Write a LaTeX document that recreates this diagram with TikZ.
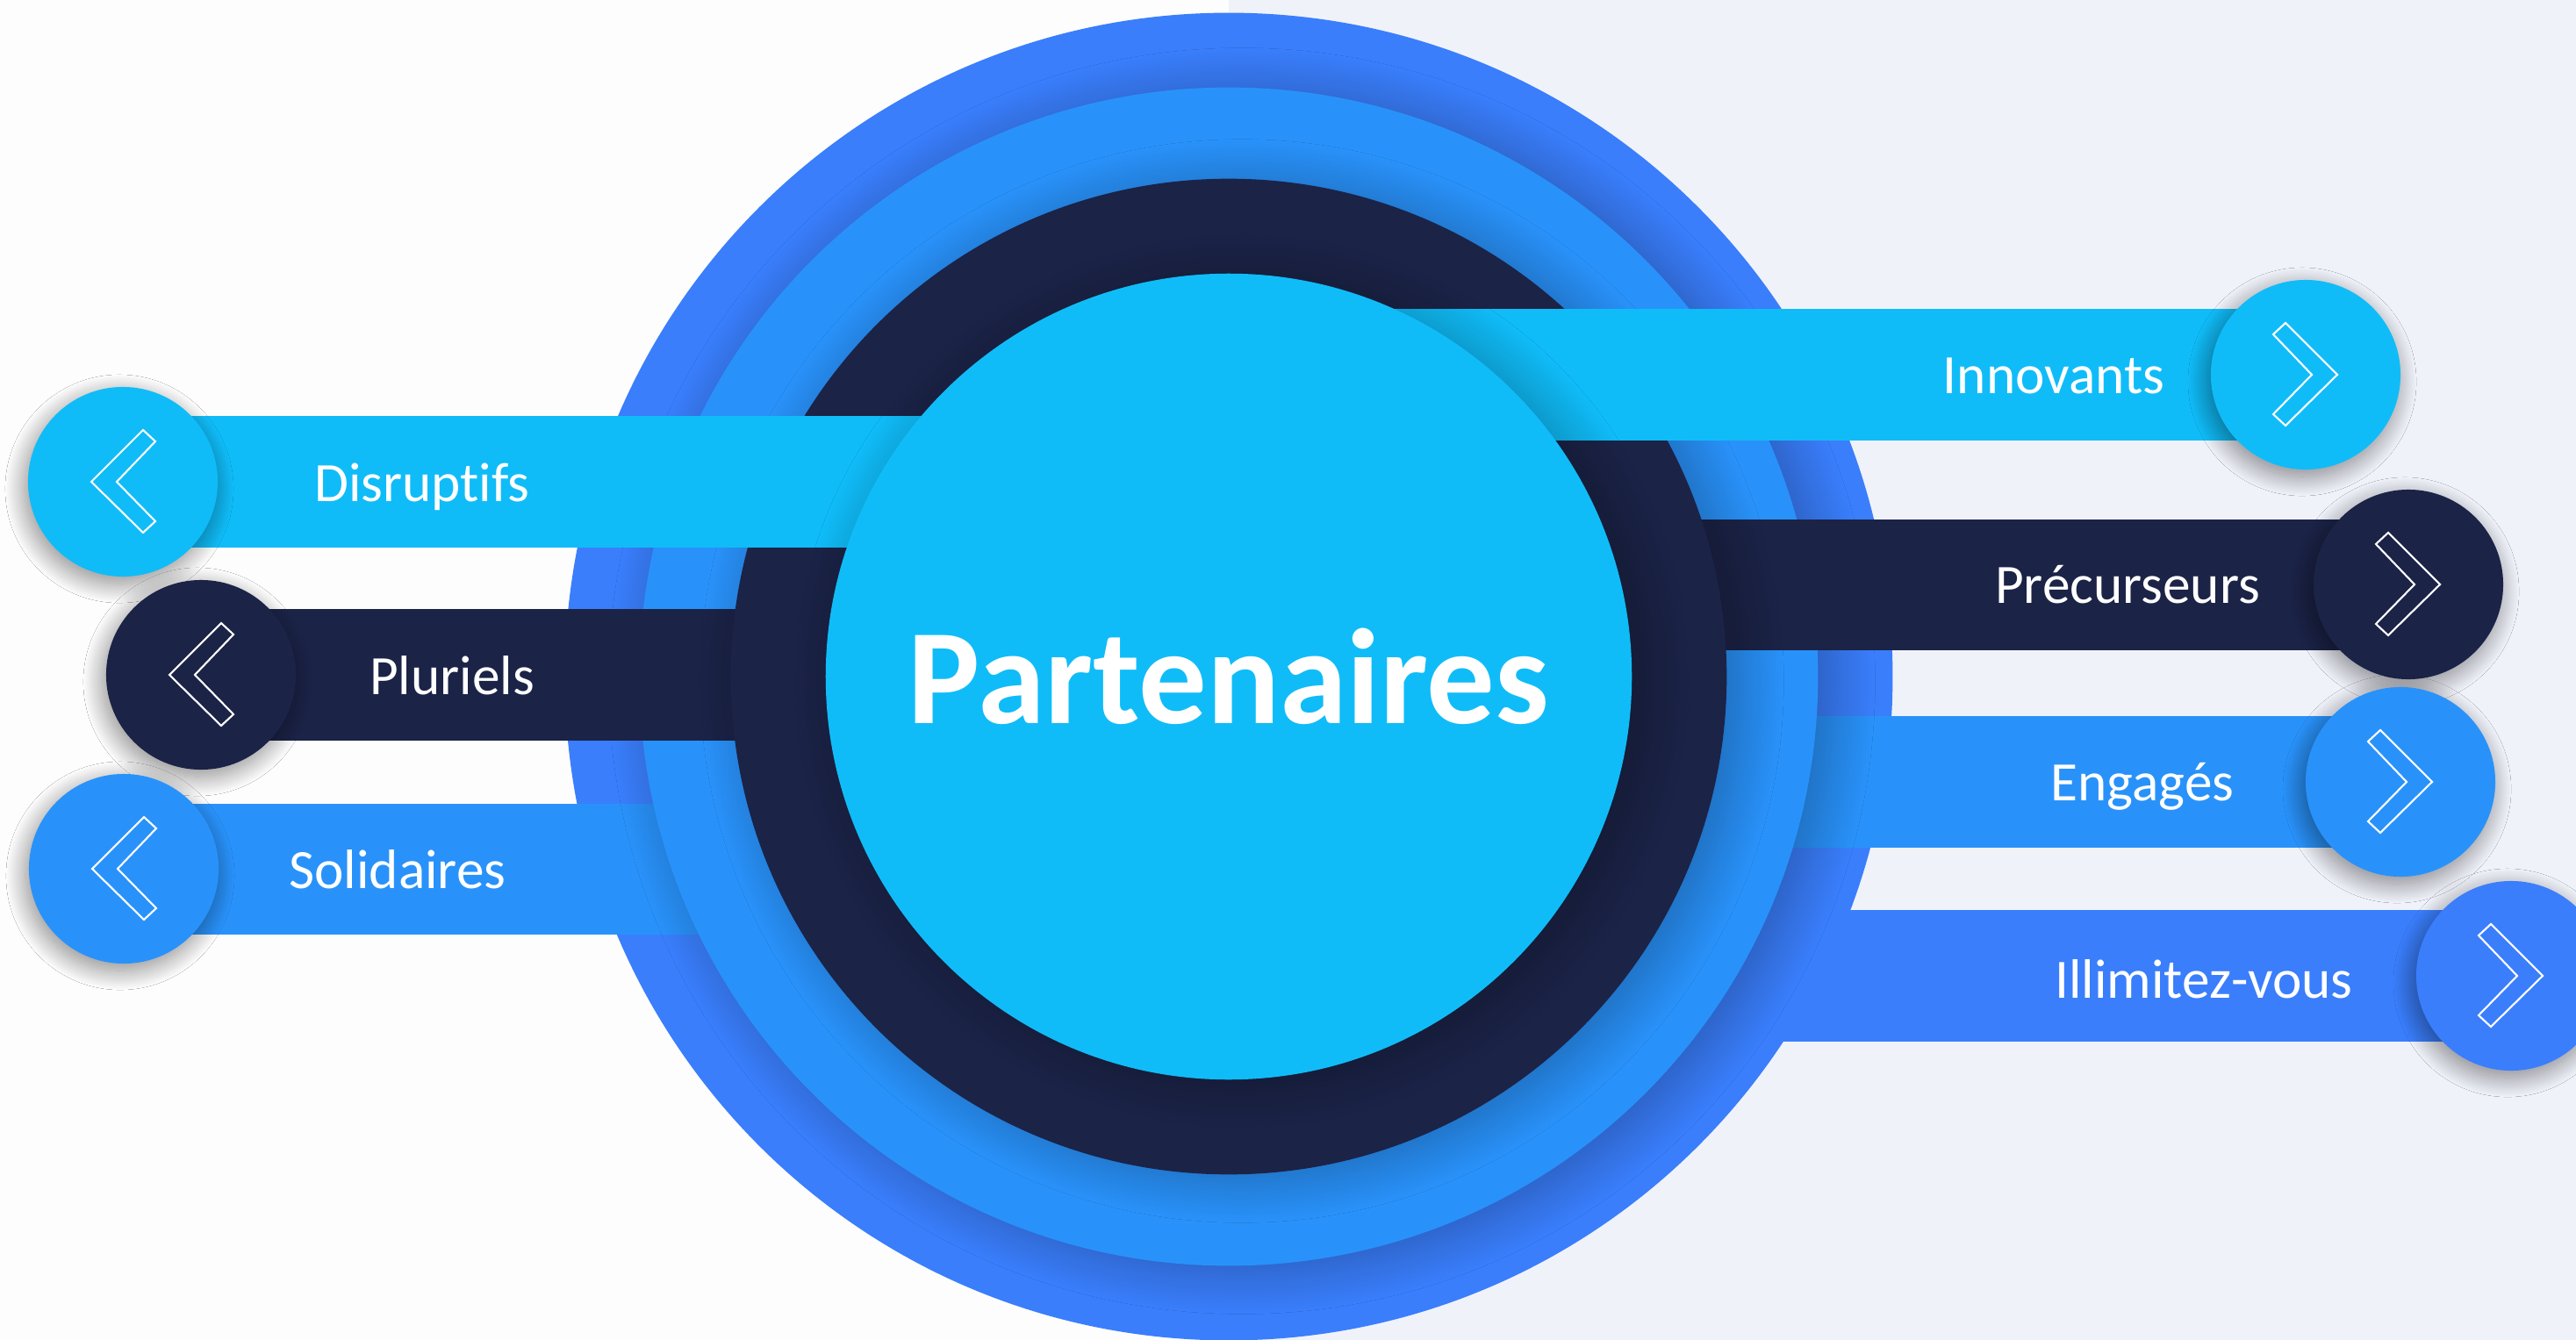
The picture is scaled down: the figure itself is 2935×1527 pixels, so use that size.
\documentclass[tikz,border=0pt]{standalone}
\usepackage{fontspec}
\setmainfont{Carlito}[Ligatures=NoCommon]
\usetikzlibrary{shadows.blur}
\definecolor{ringblue}{HTML}{3A7EFC}
\definecolor{midblue}{HTML}{2992FA}
\definecolor{navy}{HTML}{1B2347}
\definecolor{skyblue}{HTML}{10BCF8}
\definecolor{bgleft}{HTML}{FDFDFD}
\definecolor{bgright}{HTML}{F0F2FA}
\tikzset{ring/.style={circle, inner sep=0pt, blur shadow={shadow blur radius=5mm, shadow blur steps=40, shadow xshift=1.5mm, shadow yshift=-0.5mm, shadow opacity=30}},
	icon/.style={circle, minimum size=2.16cm, inner sep=0pt, blur shadow={shadow blur radius=2.2mm, shadow blur steps=30, shadow xshift=-0.4mm, shadow yshift=-0.8mm, shadow opacity=45}},
	chev/.style={draw=white, line width=0.6pt},
	tag/.style={text=white, font=\fontsize{18}{20}\selectfont, anchor=base}
}

\begin{document}
\begin{tikzpicture}[x=0.01cm, y=-0.01cm]
	\useasboundingbox (0,0) rectangle (2935,1527);
	\clip (0,0) rectangle (2935,1527);
	\fill[bgleft] (0,0) rectangle (1400,1527);
	\fill[bgright] (1400,0) rectangle (2935,1527);
	
	% rings and bands behind them
	\node[circle, inner sep=0pt, fill=ringblue, minimum size=15.12cm] (outer) at (1400,771) {};
	\fill[ringblue] (1900,1037) rectangle (2861,1187);
	\fill[midblue] (1900,816) rectangle (2735,966);
	\fill[midblue] (141,916) rectangle (900,1065);
	\node[ring, fill=midblue, minimum size=13.42cm] (middle) at (outer) {};
	\fill[navy] (229,694) rectangle (1000,844);
	\fill[navy] (1800,592) rectangle (2744,741);
	\node[ring, fill=navy, minimum size=11.34cm] (core) at (outer) {};
	\fill[skyblue] (140,474) rectangle (1150,624);
	\fill[skyblue] (1500,352) rectangle (2627,502);
	\node[ring, fill=skyblue, minimum size=9.18cm, text=white, font=\bfseries\fontsize{44}{48}\selectfont] (hub) at (outer) {Partenaires};
	
	% icons
	\node[icon, fill=skyblue] (dis) at (140,549) {};
	\node[icon, fill=navy] (plu) at (229,769) {};
	\node[icon, fill=midblue] (sol) at (141,990) {};
	\node[icon, fill=skyblue] (inn) at (2627,427) {};
	\node[icon, fill=navy] (pre) at (2744,666) {};
	\node[icon, fill=midblue] (eng) at (2735,891) {};
	\node[icon, fill=ringblue] (ill) at (2861,1112) {};
	
	% draw chevrons
	\foreach \n in {dis,plu,sol}
		\draw[chev, shift={(\n.center)}] (-36,0) -- (23,-59) -- (37,-46) -- (-7,0) -- (37,45) -- (23,58) -- cycle;
	\foreach \n in {inn,pre,eng,ill}
		\draw[chev, shift={(\n.center)}, xscale=-1] (-36,0) -- (23,-59) -- (37,-46) -- (-7,0) -- (37,45) -- (23,58) -- cycle;
	
	\node[tag] (tdis) at (481,571) {Disruptifs};
	\node[tag] (tplu) at (515,791) {Pluriels};
	\node[tag] (tsol) at (453,1012) {Solidaires};
	\node[tag] (tinn) at (2340,448) {Innovants};
	\node[tag] (tpre) at (2424,687) {Précurseurs};
	\node[tag] (teng) at (2441,912) {Engagés};
	\node[tag] (till) at (2511,1137) {Illimitez-vous};
\end{tikzpicture}
\end{document}
